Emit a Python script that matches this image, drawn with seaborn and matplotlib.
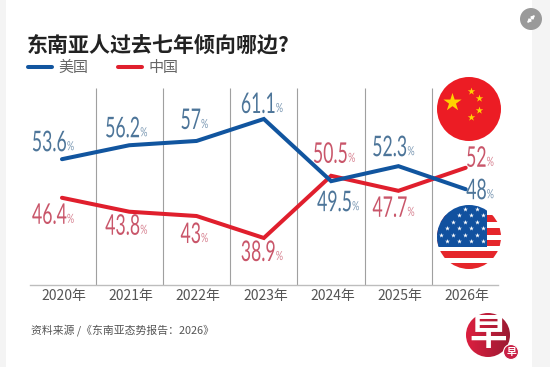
import numpy as np
import pandas as pd
import matplotlib
matplotlib.use('Agg')
import matplotlib.pyplot as plt
import seaborn as sns
from matplotlib.colors import LinearSegmentedColormap
from matplotlib.patches import Circle, Rectangle, FancyArrowPatch
from matplotlib.patheffects import AbstractPathEffect
from matplotlib.transforms import Affine2D, ScaledTranslation

years = ['2020年', '2021年', '2022年', '2023年', '2024年', '2025年', '2026年']
us_values = [53.6, 56.2, 57, 61.1, 49.5, 52.3, 48]
china_values = [46.4, 43.8, 43, 38.9, 50.5, 47.7, 52]
us_name = '美国'
china_name = '中国'
title = '东南亚人过去七年倾向哪边?'
source = '资料来源 /《东南亚态势报告：2026》'

BLUE = '#11559f'
RED = '#e01f2d'
BLUE_TEXT = '#4d7599'
RED_TEXT = '#c9566a'


class Squeeze(AbstractPathEffect):
    # no condensed font here, so squeeze the glyphs sideways around a pixel x
    def __init__(self, anchor, factor):
        super().__init__()
        self.anchor = anchor
        self.factor = factor

    def draw_path(self, renderer, gc, tpath, affine, rgbFace=None):
        squeeze = Affine2D().translate(-self.anchor, 0).scale(self.factor, 1).translate(self.anchor, 0)
        renderer.draw_path(gc, tpath, affine + squeeze, rgbFace)


sns.set_theme(style='white')
plt.rcParams['font.family'] = ['Noto Sans CJK SC', 'DejaVu Sans']

W, H = 550, 367
fig = plt.figure(figsize=(W / 100, H / 100), dpi=100)

# pixel layer for everything that is not the chart itself
bg = fig.add_axes([0, 0, 1, 1], zorder=0)
bg.set_xlim(0, W)
bg.set_ylim(H, 0)
bg.axis('off')
bg.add_patch(Rectangle((0, 0), 6, H, color='#f4f4f4', lw=0))
bg.add_patch(Rectangle((532, 0), 18, H, color='#f4f4f4', lw=0))

ax = fig.add_axes([30 / W, 1 - 285 / H, 468 / W, 197 / H], zorder=1)
ax.patch.set_alpha(0)

df = pd.DataFrame({
    'year': years * 2,
    'value': us_values + china_values,
    'who': [us_name] * len(years) + [china_name] * len(years),
})
sns.lineplot(data=df, x='year', y='value', hue='who', hue_order=[us_name, china_name],
             palette=[BLUE, RED], linewidth=2.9, sort=False, ax=ax)
for line in ax.get_lines():
    line.set_solid_joinstyle('miter')
    line.set_solid_capstyle('round')
ax.get_lines()[0].set_zorder(4)
ax.get_lines()[1].set_zorder(3)

ax.set_xlim(-0.475, 6.48)
ax.set_ylim(30.13, 66.88)
ax.set_xlabel('')
ax.set_ylabel('')
ax.set_yticks([])
ax.set_xticks(range(len(years)))
ax.set_xticklabels(years, fontsize=10, color='#555555')
ax.tick_params(axis='x', length=0, pad=3)
for tick in ax.get_xticklabels():
    tick.set_transform(tick.get_transform() + ScaledTranslation(1.5 / 100, 0, fig.dpi_scale_trans))
sns.despine(ax=ax, left=True)
ax.spines['bottom'].set_color('#bdbdbd')
ax.spines['bottom'].set_linewidth(1.0)
ax.vlines(np.arange(6) + 0.5, 30.13, 66.88, color='#a0a0a0', lw=0.8, zorder=1)


# value labels, number and small percent sign meet at the anchor
def label(x, val, dx, dy, color):
    px = 100 / 72
    anchor = ax.transData.transform((x, val))[0] + dx
    ax.annotate(f'{val:g}', (x, val), xytext=(dx / px, dy / px), textcoords='offset points', ha='right',
                va='center', fontsize=20.5, color=color, family='Lato', zorder=5,
                path_effects=[Squeeze(anchor, 0.62)])
    ax.annotate('%', (x, val), xytext=(dx / px, (dy - 3) / px), textcoords='offset points', ha='left',
                va='center', fontsize=9, color=color, alpha=0.75, family='Lato', zorder=5,
                path_effects=[Squeeze(anchor, 0.72)])


us_off = [(5, 16), (11, 16), (4.5, 20), (12, 14), (21, -22), (9, 18), (21, -2)]
cn_off = [(5, -18), (11, -15), (4.5, -19), (12, -15), (17, 21), (9, -18), (21, 9)]
for i in range(len(years)):
    label(i, us_values[i], us_off[i][0], us_off[i][1], BLUE_TEXT)
    label(i, china_values[i], cn_off[i][0], cn_off[i][1], RED_TEXT)

# legend on top of the plot
handles, labels = ax.get_legend_handles_labels()
ax.legend_.remove()
fig.legend(handles, labels, loc='center left', bbox_to_anchor=(28 / W, 1 - 68 / H), ncol=2, frameon=False,
           fontsize=10.8, labelcolor='#666666', handlelength=1.6, handletextpad=0.4, columnspacing=2.0,
           borderaxespad=0, borderpad=0)

fig.text(27 / W, 1 - 45 / H, title, fontsize=15.1, fontweight='bold', color='#222222', va='center')
fig.text(31 / W, 1 - 330 / H, source, fontsize=7.8, color='#555555', va='center')

top = fig.add_axes([0, 0, 1, 1], zorder=2)
top.set_xlim(0, W)
top.set_ylim(H, 0)
top.axis('off')

# expand icon
top.add_patch(Circle((531, 19), 11, color='#9a9a9a', lw=0))
top.add_patch(FancyArrowPatch((525, 25), (537, 13), arrowstyle='<|-|>', mutation_scale=5, color='white', lw=1))

# china flag
top.add_patch(Circle((469, 109), 32, color='#ec1c24', lw=0))
top.scatter([452], [102], marker='*', s=190, color='#ffd200', lw=0)
top.scatter([471, 479, 479, 471], [91, 98, 110, 117], marker='*', s=32, color='#ffd200', lw=0)

# us flag
clip = Circle((469, 237), 32, transform=top.transData)
top.add_patch(Rectangle((437, 205), 64, 64, color='white', lw=0, clip_path=clip))
for y0, y1 in [(215, 221.5), (228, 234.5), (240, 246), (251, 258), (263, 269)]:
    top.add_patch(Rectangle((437, y0), 64, y1 - y0, color='#e5262b', lw=0, clip_path=clip))
top.add_patch(Rectangle((437, 205), 50, 42, color='#11519f', lw=0, clip_path=clip))
sx, sy = [], []
for r, y in enumerate(np.arange(208.5, 246, 6.5)):
    for x in np.arange(441 + (r % 2) * 6, 487, 12):
        if (x - 469) ** 2 + (y - 237) ** 2 < 30 ** 2:
            sx.append(x)
            sy.append(y)
top.scatter(sx, sy, marker='*', s=13, color='white', lw=0)

# logo
logo_cmap = LinearSegmentedColormap.from_list('logo', ['#dc1f3f', '#9c1a33'])
img = top.imshow(np.linspace(0, 1, 64)[None, :], extent=(466, 510, 357, 313), cmap=logo_cmap, aspect='auto', zorder=2)
img.set_clip_path(Circle((488, 335), 22, transform=top.transData))
top.set_xlim(0, W)
top.set_ylim(H, 0)
top.text(488, 333, '早', fontsize=27, color='white', ha='center', va='center', fontweight='bold', zorder=3)
top.add_patch(Circle((511, 352), 7.5, color='#c91f45', ec='white', lw=0.8, zorder=3))
top.text(511, 352, '早', fontsize=7, color='white', ha='center', va='center', fontweight='bold', zorder=4)

fig.savefig('out.png', dpi=100)
